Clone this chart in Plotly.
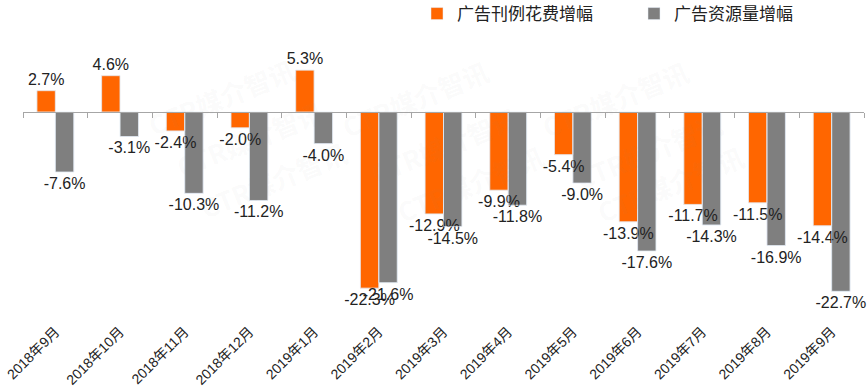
import plotly.graph_objects as go

categories = ["2018年9月", "2018年10月", "2018年11月", "2018年12月", "2019年1月", "2019年2月",
              "2019年3月", "2019年4月", "2019年5月", "2019年6月", "2019年7月", "2019年8月", "2019年9月"]
spend_growth = [2.7, 4.6, -2.4, -2.0, 5.3, -22.3, -12.9, -9.9, -5.4, -13.9, -11.7, -11.5, -14.4]
volume_growth = [-7.6, -3.1, -10.3, -11.2, -4.0, -21.6, -14.5, -11.8, -9.0, -17.6, -14.3, -16.9, -22.7]
series_names = ["广告刊例花费增幅", "广告资源量增幅"]
series_colors = ["#FF6600", "#7F7F7F"]

W, H = 867, 386
ml, mr, mt, mb = 23, 3, 0, 71
plot_w = W - ml - mr
plot_h = H - mt - mb
px_per_unit = 7.9
zero_px = 112
y_max = (zero_px - mt) / px_per_unit
y_min = y_max - plot_h / px_per_unit
zero_pos = (0 - y_min) / (y_max - y_min)

font_family = "Liberation Sans, Arial, Noto Sans CJK SC, sans-serif"
series = [(series_names[0], spend_growth, series_colors[0], "a"),
          (series_names[1], volume_growth, series_colors[1], "b")]

fig = go.Figure()
# bars
for name, vals, color, grp in series:
    fig.add_trace(go.Bar(
        x=categories, y=vals, name=name, marker_color=color,
        offsetgroup=grp, xaxis="x", yaxis="y", hoverinfo="x+y",
    ))
# value labels drawn on top of all bars
for name, vals, color, grp in series:
    fig.add_trace(go.Bar(
        x=categories, y=vals, name=name, showlegend=False,
        marker=dict(color="rgba(0,0,0,0)"), offsetgroup=grp,
        texttemplate="%{y:.1f}%", textposition="outside", textangle=0,
        constraintext="none", cliponaxis=False, hoverinfo="skip",
        textfont=dict(size=16, color="#222222", family=font_family),
        xaxis="x", yaxis="y",
    ))

# helper trace to carry the bottom category labels
fig.add_trace(go.Scatter(x=categories, y=[0] * len(categories), mode="markers",
                         marker=dict(opacity=0), showlegend=False, hoverinfo="skip",
                         xaxis="x2", yaxis="y"))

# faint watermarks (pixel centres in the picture)
wm_px = [(140, 48), (415, 50), (697, 50),
         (168, 138), (445, 145), (730, 150),
         (192, 228), (470, 232), (752, 232)]
for wx, wy in wm_px:
    fig.add_annotation(x=(wx - ml) / plot_w, y=1 - (wy - mt) / plot_h,
                       xref="paper", yref="paper", text="<b>CTR媒介智讯</b>",
                       showarrow=False, textangle=-22,
                       font=dict(size=26, color="rgba(140,140,140,0.05)",
                                 family="Noto Sans CJK SC, sans-serif"))

fig.update_layout(
    width=W, height=H,
    margin=dict(l=ml, r=mr, t=mt, b=mb, autoexpand=False),
    paper_bgcolor="white", plot_bgcolor="white",
    barmode="group", bargap=0.43, bargroupgap=0,
    font=dict(family=font_family, color="#222222"),
    showlegend=True,
    legend=dict(orientation="h", x=(417 - ml) / plot_w, xanchor="left",
                y=1 - 14 / plot_h, yanchor="middle",
                font=dict(size=17, color="#222222", family="Noto Sans CJK SC, sans-serif"),
                entrywidth=172, entrywidthmode="pixels", bgcolor="rgba(0,0,0,0)"),
    xaxis=dict(type="category", range=[-0.5, len(categories) - 0.5],
               anchor="free", position=zero_pos,
               showline=True, linecolor="#A6A6A6", linewidth=1,
               ticks="outside", ticklen=5, tickcolor="#A6A6A6", tickson="boundaries",
               showticklabels=False, showgrid=False, zeroline=False, automargin=False),
    xaxis2=dict(type="category", overlaying="x", anchor="y", side="bottom",
                range=[-0.5, len(categories) - 0.5], automargin=False,
                showline=False, ticks="", showgrid=False, zeroline=False,
                ticklabelstandoff=5,
                tickangle=-45, tickfont=dict(size=14, color="#222222",
                                             family="Liberation Sans, Noto Sans CJK SC, sans-serif")),
    yaxis=dict(range=[y_min, y_max], visible=False, showgrid=False, zeroline=False),
)

fig.write_html("out.html", config={"displayModeBar": False},
               post_script="document.body.style.margin='0';document.body.style.overflow='hidden';")
